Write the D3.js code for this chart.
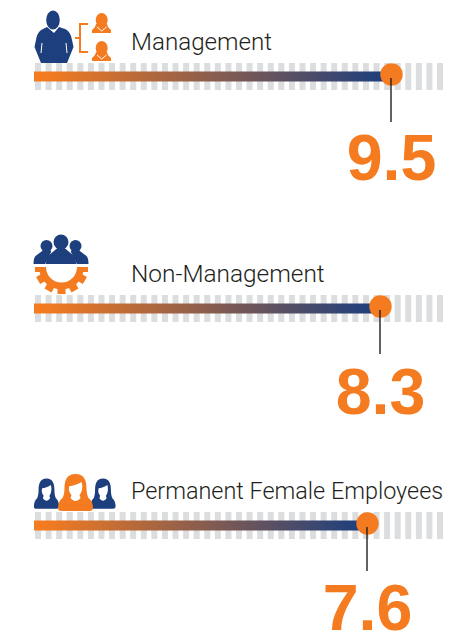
<!DOCTYPE html>
<html>
<head>
<meta charset="utf-8">
<title>Employees</title>
<script src="https://cdn.jsdelivr.net/npm/d3@7"></script>
<style>
    html, body { margin: 0; padding: 0; background: #fff; }
    svg { display: block; }
    .label { font-family: Roboto, sans-serif; font-weight: 300; fill: #231f20; }
    .value { font-family: "Liberation Sans", Arial, sans-serif; font-weight: 700; font-size: 64.5px; fill: #f47b20; }
</style>
</head>
<body>
<svg id="chart"></svg>
<script>
const categories = ['Management', 'Non-Management', 'Permanent Female Employees'];
const values = [9.5, 8.3, 7.6];
const valueLabels = ['9.5', '8.3', '7.6'];
const stripeSteps = d3.range(39);

const width = 475;
const height = 632;
const orange = '#f47b20';
const navy = '#1e3f7d';
const stripeGrey = '#dcddde';

// layout of each row: top of the stripes, baseline of label and number
const stripeTops = [63, 295, 512];
const labelBase = [50, 282, 499];
const labelSizes = [24.2, 24.4, 23.4];
const numberBase = [180, 414, 630];
const stripeH = 27;
const barH = 10;

const svg = d3.select('#chart').attr('width', width).attr('height', height);
const defs = svg.append('defs');

// The marker positions in the picture are not proportional to the values,
// so the scale is calibrated on the three readings
const x = d3.scaleLinear()
    .domain([0, 7.6, 8.3, 9.5])
    .range([34, 367.5, 380.5, 391.5]);

const stripeX = d3.scaleLinear()
    .domain([0, stripeSteps.length - 1])
    .range([35, 437]);

categories.forEach((name, i) => {
    const top = stripeTops[i];
    const row = svg.append('g').attr('class', 'row');

    const grad = defs.append('linearGradient')
        .attr('id', `grad${i}`)
        .attr('gradientUnits', 'userSpaceOnUse')
        .attr('x1', x(0)).attr('x2', x(values[i]) - 8)
        .attr('y1', 0).attr('y2', 0);
    grad.append('stop').attr('offset', '3%').attr('stop-color', orange);
    grad.append('stop').attr('offset', '100%').attr('stop-color', navy);

    row.selectAll('rect.stripe')
        .data(stripeSteps)
        .enter().append('rect')
        .attr('class', 'stripe')
        .attr('x', d => stripeX(d))
        .attr('y', top)
        .attr('width', 6)
        .attr('height', stripeH)
        .attr('fill', stripeGrey);

    row.append('rect')
        .attr('x', x(0))
        .attr('y', top + 8.5)
        .attr('width', x(values[i]) - x(0))
        .attr('height', barH)
        .attr('fill', `url(#grad${i})`);

    row.append('circle')
        .attr('cx', x(values[i]))
        .attr('cy', top + 11.5)
        .attr('r', 11.2)
        .attr('fill', orange);

    row.append('line')
        .attr('x1', x(values[i]) - 0.5)
        .attr('x2', x(values[i]) - 0.5)
        .attr('y1', top + 15)
        .attr('y2', top + 59)
        .attr('stroke', '#231f20')
        .attr('stroke-width', 1.4);

    row.append('text')
        .attr('class', 'label')
        .attr('x', 131)
        .attr('y', labelBase[i])
        .style('font-size', `${labelSizes[i]}px`)
        .text(name);

    row.append('text')
        .attr('class', 'value')
        .attr('x', x(values[i]))
        .attr('y', numberBase[i])
        .attr('text-anchor', 'middle')
        .text(valueLabels[i]);
});

// Icons
function woman(g, cx, top, sx, sy, fill) {
    const p = g.append('g').attr('transform', `translate(${cx},${top}) scale(${sx},${sy})`);
    // hair and shoulders
    p.append('path').attr('fill', fill)
        .attr('d', 'M0,0 C9,0 11,7 11,14 C11,19 12,22 13,24 C16,26 17.5,30 17.5,34 Q17.5,37 14,37 L-14,37 Q-17.5,37 -17.5,34 C-17.5,30 -16,26 -13,24 C-12,22 -11,19 -11,14 C-11,7 -9,0 0,0 Z');
    // face and neck
    p.append('path').attr('fill', '#fff')
        .attr('d', 'M-6,12 C-3,12 3,10 6,8 C7.5,12 7,18 4,21 L5,24 C2,28 -2,28 -5,24 L-4,21 C-7,18 -7,14 -6,12 Z');
}

// manager with two reports
const icon1 = svg.append('g').attr('class', 'icon');
icon1.append('ellipse').attr('cx', 53).attr('cy', 20).attr('rx', 6.8).attr('ry', 9.5).attr('fill', navy);
icon1.append('path').attr('fill', navy)
    .attr('d', 'M47,27 L43,29 C39,31 37,34 36,40 L34.5,47 L41,63 L67,63 L73.5,47 L72,40 C71,34 69,31 65,29 L59,27 L54,33 Z');
icon1.append('path').attr('fill', 'none').attr('stroke', '#fff').attr('stroke-width', 1)
    .attr('d', 'M42,43 L41,53 M66,43 L67,53');
icon1.append('path').attr('fill', 'none').attr('stroke', orange).attr('stroke-width', 2)
    .attr('d', 'M88,24 L80,24 L80,52 L88,52 M75,38 L80,38');
function smallWoman(bottom) {
    icon1.append('ellipse').attr('cx', 101.7).attr('cy', bottom - 13).attr('rx', 6).attr('ry', 7).attr('fill', orange);
    icon1.append('path').attr('fill', orange)
        .attr('d', `M96,${bottom - 9} L95,${bottom - 6} L92,${bottom - 3} L92,${bottom} L111,${bottom} L111,${bottom - 3} L108,${bottom - 6} L107,${bottom - 9} Z`);
    icon1.append('path').attr('fill', 'none').attr('stroke', '#fff').attr('stroke-width', 1)
        .attr('d', `M97,${bottom - 6} L101.7,${bottom - 2} L106.5,${bottom - 6}`);
}
smallWoman(33);
smallWoman(61);

// three people on a gear
const icon2 = svg.append('g').attr('class', 'icon');
function person(cx, cy, r, bw, bottom) {
    icon2.append('circle').attr('cx', cx).attr('cy', cy).attr('r', r).attr('fill', navy);
    icon2.append('path').attr('fill', navy)
        .attr('d', `M${cx - 3},${cy + r - 2} L${cx - bw + 2},${bottom - 8} Q${cx - bw},${bottom - 6} ${cx - bw},${bottom} L${cx + bw},${bottom} Q${cx + bw},${bottom - 6} ${cx + bw - 2},${bottom - 8} L${cx + 3},${cy + r - 2} Z`);
}
person(46.5, 246, 6, 13, 264);
person(75.5, 246, 6, 13, 264);
icon2.append('path').attr('fill', '#fff')
    .attr('d', 'M45,264.5 L52,250 L70,250 L77,264.5 Z');
person(61, 242, 7.5, 15, 264);

const gearCx = 61.5;
const gearCy = 267;
const arc = d3.arc().innerRadius(15.5).outerRadius(22.5).startAngle(Math.PI / 2).endAngle(Math.PI * 3 / 2);
const gear = icon2.append('g').attr('transform', `translate(${gearCx},${gearCy})`).attr('fill', orange);
gear.append('path').attr('d', arc());
gear.append('rect').attr('x', -26.5).attr('y', 0).attr('width', 11).attr('height', 5);
gear.append('rect').attr('x', 15.5).attr('y', 0).attr('width', 11).attr('height', 5);
[-60, -30, 0, 30, 60].forEach(a => {
    gear.append('rect').attr('x', -4).attr('y', 20).attr('width', 8).attr('height', 7)
        .attr('transform', `rotate(${a})`);
});

// three women
const icon3 = svg.append('g').attr('class', 'icon');
woman(icon3, 46.5, 478.5, 0.72, 0.82, navy);
woman(icon3, 103, 478.5, 0.72, 0.82, navy);
woman(icon3, 75.5, 474, 1, 1, orange);
</script>
</body>
</html>
